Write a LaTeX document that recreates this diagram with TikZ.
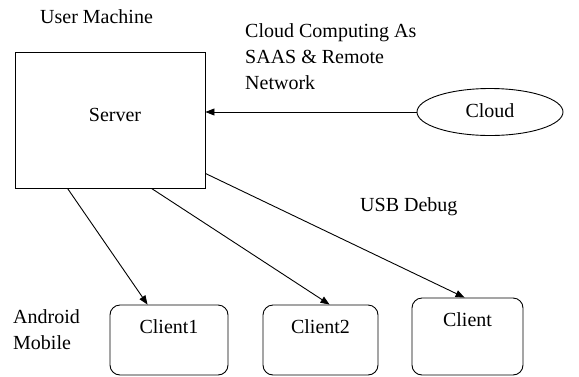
\documentclass[tikz,border=0pt]{standalone}
\usepackage{fontspec}
\setmainfont{Liberation Serif}
\usetikzlibrary{shapes.geometric,arrows.meta}
\begin{document}
\begin{tikzpicture}[x=1pt,y=-1pt,
  every node/.style={font=\fontsize{20}{26}\selectfont, inner sep=0pt},
  lbl/.style={anchor=west, align=left},
  box/.style={draw, line width=0.9pt},
  clientbox/.style={draw, line width=0.9pt, rounded corners=10pt},
  arr/.style={line width=0.9pt, -{Triangle[length=9pt,width=7pt]}}]
\useasboundingbox (0,0) rectangle (579,376);
\node[box, minimum width=190pt, minimum height=136pt] (server) at (110,120) {};
\node (servertxt) at (115,115) {Server};
\node[lbl] (user) at (40,17) {User Machine};
\node[lbl] (cloudtxt) at (245,57) {Cloud Computing As\\SAAS \& Remote\\Network};
\node[draw, ellipse, line width=0.9pt, minimum width=146pt, minimum height=47pt] (cloud) at (490,112) {};
\node (cloudlbl) at (490,111) {Cloud};
\node[lbl] (usb) at (360,207) {USB Debug};
\node[lbl] (android) at (13,330) {Android\\Mobile};
\node[clientbox, minimum width=118pt, minimum height=70pt, label={[yshift=13pt]center:Client1}] (c1) at (169,340) {};
\node[clientbox, minimum width=115pt, minimum height=70pt, label={[yshift=13pt]center:Client2}] (c2) at (320.5,340) {};
\node[clientbox, minimum width=111pt, minimum height=77pt, label={[yshift=16.5pt]center:Client}] (c3) at (467.5,336.5) {};
\draw[arr] (cloud.west) -- (server.east |- cloud.west);
\draw[arr] ([xshift=53pt]server.south west) -- ([xshift=38pt]c1.north west);
\draw[arr] ([xshift=137pt]server.south west) -- ([xshift=67pt]c2.north west);
\draw[arr] ([yshift=15pt]server.south east) -- ([xshift=53pt]c3.north west);
\end{tikzpicture}
\end{document}
